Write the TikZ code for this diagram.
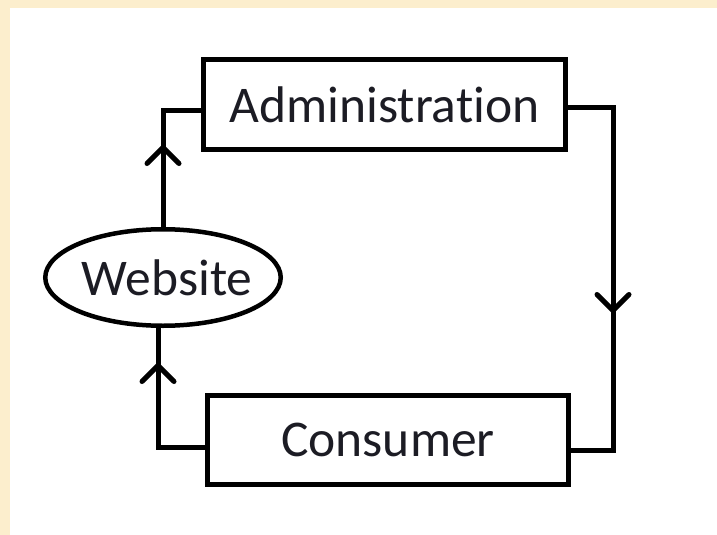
\documentclass[tikz,border=0pt]{standalone}
\usepackage{fontspec}
\setmainfont{Carlito}[Ligatures={NoCommon,NoContextual}]
\usetikzlibrary{shapes.geometric,arrows.meta,decorations.markings}
\definecolor{beige}{RGB}{252,238,205}
\definecolor{txt}{RGB}{28,28,36}
\tikzset{
  box/.style={draw,line width=5pt,rectangle,inner sep=0pt,font=\fontsize{51.5}{60}\selectfont,text=txt},
  oval/.style={draw,line width=4.5pt,ellipse,inner sep=0pt,font=\fontsize{51.5}{60}\selectfont,text=txt},
  conn/.style={line width=5pt},
  midarrow/.style={postaction={decorate,decoration={markings,
     mark=at position #1 with {\arrow{Straight Barb[length=16pt,width=32pt,round]}}}}}
}
\begin{document}
\begin{tikzpicture}[x=1pt,y=-1pt]
\useasboundingbox (0,0) rectangle (717,535);
\fill[beige] (0,0) rectangle (717,535);
\fill[white] (10,8) rectangle (717,535);

\node[box,minimum width=362pt,minimum height=90pt] (adm) at (384.5,104.5) {Administration};
\node[box,minimum width=361pt,minimum height=89pt] (con) at (388,440) {Consumer};
\node[oval,minimum width=235.5pt,minimum height=96.5pt] (web) at (163,277.5) {\makebox[0pt]{\hspace*{8pt}Website}};

\coordinate (p1) at (163,110);
\coordinate (p2) at (613,107);
\coordinate (p3) at (613,450);
\coordinate (p4) at (158,447);

\draw[conn,midarrow=82pt] (web.north) -- (p1) -- (p1 -| adm.west);
\draw[conn,midarrow=251pt] (adm.east |- p2) -- (p2) -- (p3) -- (p3 -| con.east);
\draw[conn,midarrow=131pt] (con.west |- p4) -- (p4) -- (p4 |- web.south);
\end{tikzpicture}
\end{document}
